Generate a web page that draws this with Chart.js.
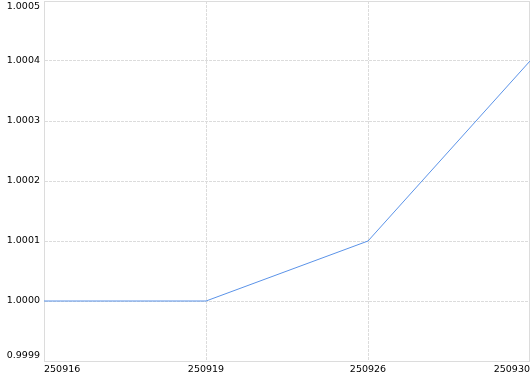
<!DOCTYPE html>
<html>
<head>
<meta charset="utf-8">
<style>
  html, body { margin: 0; padding: 0; background: #fff; }
  #wrap { width: 530px; height: 374px; }
</style>
<script src="https://cdn.jsdelivr.net/npm/chart.js@4/dist/chart.umd.min.js"></script>
</head>
<body>
<div id="wrap"><canvas id="navChart" width="530" height="374"></canvas></div>
<script>
const dates = ["250916", "250919", "250926", "250930"];
const navValues = [1.0000, 1.0000, 1.0001, 1.0004];
const yTicks = [0.9999, 1.0000, 1.0001, 1.0002, 1.0003, 1.0004, 1.0005];

const gridGrey = "#dcdcdc";
const labelFont = { family: "DejaVu Sans", size: 9.5 };

// solid frame round the plot area
const frame = {
    id: "frame",
    beforeDatasetsDraw(chart) {
        const { ctx, chartArea: a } = chart;
        ctx.save();
        ctx.strokeStyle = gridGrey;
        ctx.lineWidth = 1;
        ctx.strokeRect(a.left + 0.5, a.top + 0.5, a.right - a.left - 1, a.bottom - a.top);
        ctx.restore();
    }
};

// y labels, first and last kept inside the plot
const yLabels = {
    id: "yLabels",
    afterDraw(chart) {
        const { ctx } = chart;
        const y = chart.scales.y;
        ctx.save();
        ctx.font = "9.5px 'DejaVu Sans'";
        ctx.fillStyle = "#000";
        ctx.textAlign = "right";
        y.ticks.forEach((t, i) => {
            const py = y.getPixelForValue(t.value);
            let base = "middle";
            if (i === 0) base = "bottom";
            if (i === y.ticks.length - 1) base = "top";
            ctx.textBaseline = base;
            ctx.fillText(t.value.toFixed(4), y.right - 4, base === "bottom" ? py - 1 : base === "top" ? py + 1 : py);
        });
        ctx.restore();
    }
};

new Chart(document.getElementById("navChart"), {
    type: "line",
    data: {
        labels: dates,
        datasets: [
            {
                data: navValues,
                borderColor: "#5b93e8",
                borderWidth: 1,
                pointRadius: 0,
                tension: 0,
                fill: false
            }
        ]
    },
    options: {
        responsive: false,
        animation: false,
        layout: { padding: { top: 1, right: 0, left: 0, bottom: 0 } },
        plugins: { legend: { display: false }, tooltip: { enabled: false } },
        scales: {
            x: {
                offset: false,
                grid: { color: gridGrey, drawTicks: false },
                border: { color: gridGrey, dash: [3, 1] },
                ticks: { color: "#000", font: labelFont, padding: 3, align: "inner", maxRotation: 0, autoSkip: false },
                afterFit: (s) => { s.height = 13; s.paddingLeft = 0; s.paddingRight = 0; }
            },
            y: {
                min: 0.9999,
                max: 1.0005,
                grid: { color: gridGrey, drawTicks: false },
                border: { color: gridGrey, dash: [3, 1] },
                ticks: { color: "transparent", font: labelFont, padding: 4 },
                afterBuildTicks: (s) => { s.ticks = yTicks.map(v => ({ value: v })); },
                afterFit: (s) => { s.width = 44; s.paddingTop = 0; s.paddingBottom = 0; }
            }
        }
    },
    plugins: [frame, yLabels]
});
</script>
</body>
</html>
